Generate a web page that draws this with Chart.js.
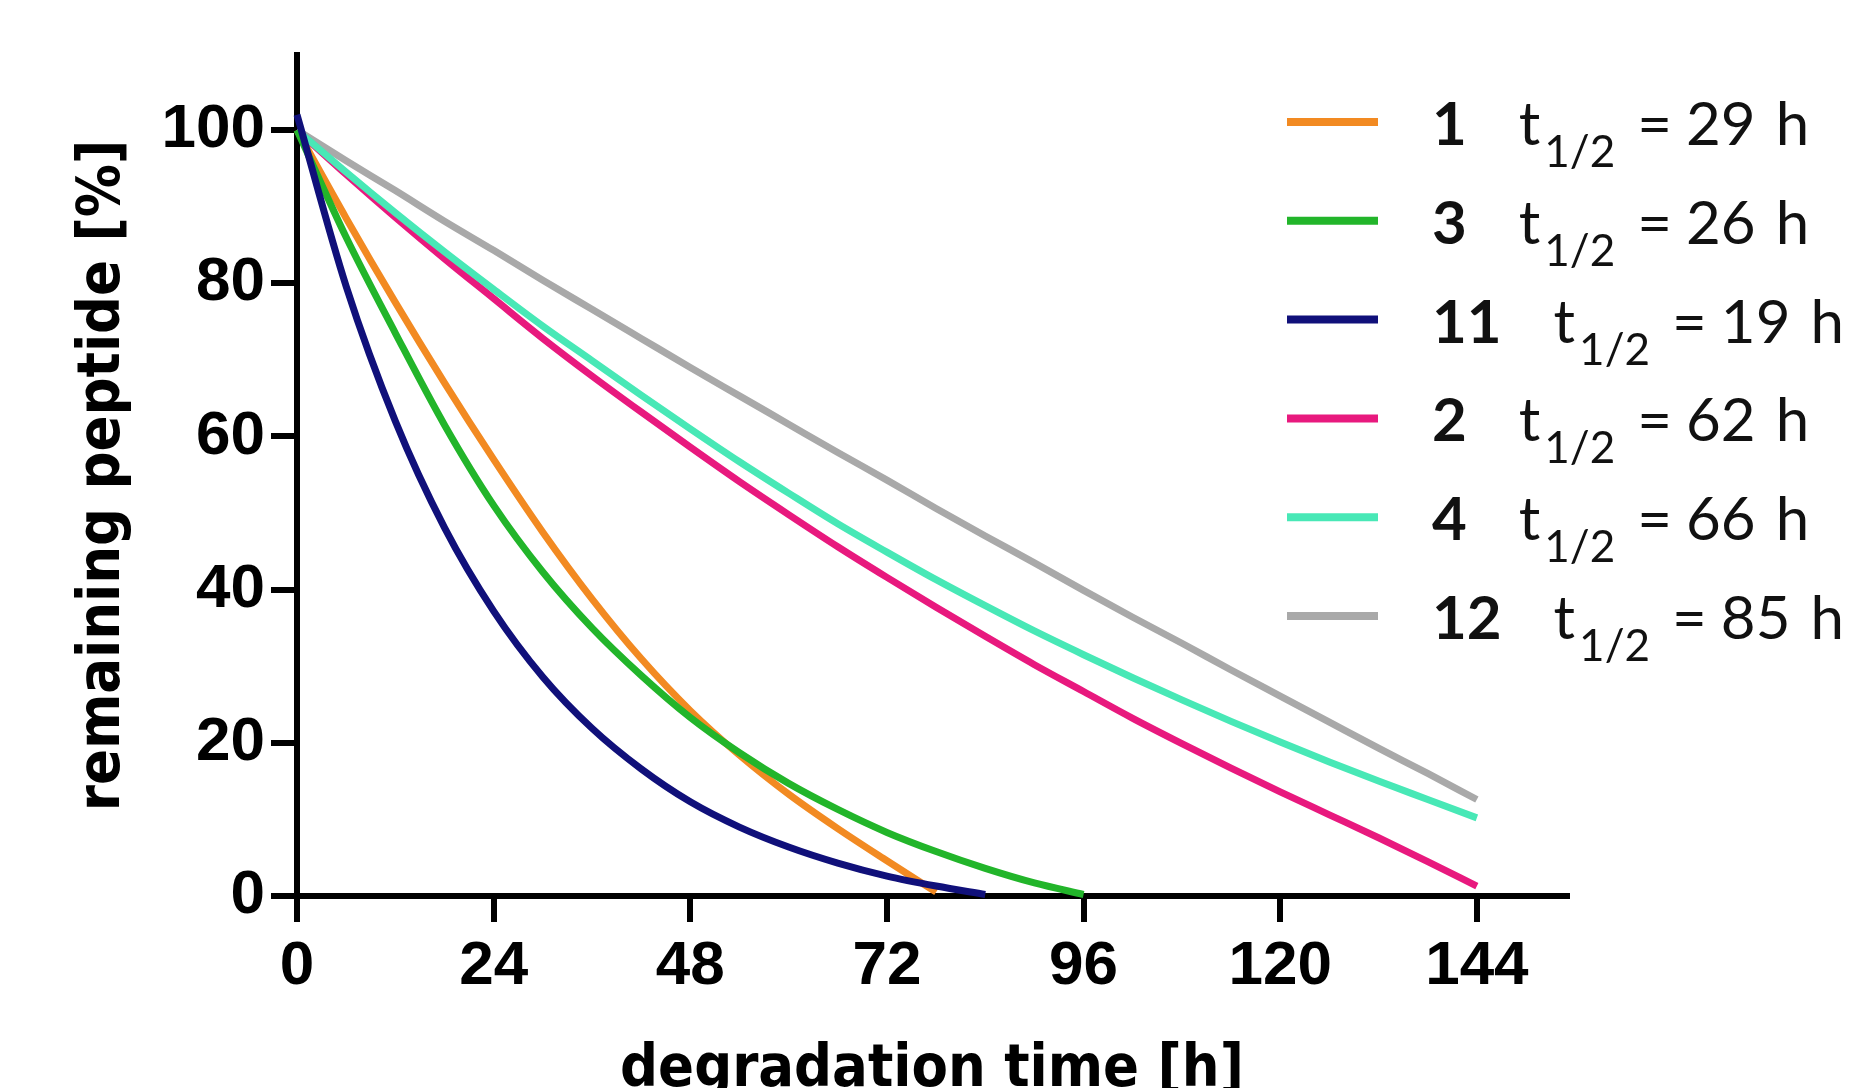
<!DOCTYPE html>
<html>
<head>
<meta charset="utf-8">
<script src="https://cdn.jsdelivr.net/npm/chart.js@4.4.1/dist/chart.umd.min.js"></script>
<style>
  html, body { margin: 0; padding: 0; background: #fff; }
  #wrap { position: relative; width: 1863px; height: 1088px; }
</style>
</head>
<body>
<div id="wrap"><canvas id="chart" width="1863" height="1088"></canvas></div>
<script>
// sampling times [h], shared by all curves (each curve stops where it hits 0)
const hours = [0, 6, 12, 18, 24, 30, 36, 42, 48, 54, 60, 66, 72, 78, 84, 90, 96, 102, 108, 114, 120, 126, 132, 138, 144];
const xTicks = [0, 24, 48, 72, 96, 120, 144];
const yTicks = [0, 20, 40, 60, 80, 100];

// legend order
const peptides = ['1', '3', '11', '2', '4', '12'];
const halfLives = [29, 26, 19, 62, 66, 85];
const colors = ['#F28A22', '#22B52A', '#10107A', '#E8197E', '#48E8B6', '#A9A9A9'];

// remaining peptide [%]
const pep1 = [100, 88.5, 77.5, 67, 57, 47.5, 38.8, 31, 24.2, 18.4, 13.3, 8.8, 4.6, 0.5];
const pep3 = [100, 86, 73.5, 61.5, 51, 42.3, 35, 28.8, 23.3, 18.7, 14.7, 11.3, 8.3, 5.8, 3.6, 1.7, 0.2];
const pep11 = [102, 79.6, 62, 48.1, 37.2, 28.6, 21.9, 16.6, 12.3, 9.0, 6.4, 4.3, 2.6, 1.3, 0.2];
const pep2 = [100, 94.2, 88.6, 83.2, 78.0, 72.8, 67.9, 63.2, 58.6, 54.1, 49.8, 45.6, 41.6, 37.7, 33.9, 30.2, 26.7, 23.2, 19.9, 16.7, 13.6, 10.6, 7.6, 4.5, 1.3];
const pep4 = [100, 94.5, 89.2, 84.1, 79.2, 74.4, 69.9, 65.4, 61.0, 56.7, 52.6, 48.6, 44.9, 41.3, 37.9, 34.6, 31.5, 28.5, 25.6, 22.8, 20.1, 17.5, 15.0, 12.6, 10.2];
const pep12 = [100, 96.0, 92.1, 88.1, 84.3, 80.4, 76.6, 72.8, 69.0, 65.3, 61.6, 57.9, 54.3, 50.6, 47.0, 43.5, 39.9, 36.4, 33.0, 29.5, 26.1, 22.7, 19.3, 16.0, 12.6];
const series = [pep1, pep3, pep11, pep2, pep4, pep12];
// drawing order (higher = further below)
const drawOrder = [6, 2, 1, 4, 3, 5];

const tickFont = { family: "'Liberation Sans Narrow', 'Liberation Sans', sans-serif", weight: 'bold', size: 62 };
const titleFont = { family: "'DejaVu Sans Condensed', 'DejaVu Sans', sans-serif", weight: 'bold', size: 59, lineHeight: 1 };

// legend with bold peptide number and t1/2 subscript
const halfLifeLegend = {
    id: 'halfLifeLegend',
    afterDraw(chart) {
        const ctx = chart.ctx;
        ctx.save();
        peptides.forEach((p, i) => {
            const y = 122 + i * 98.8;
            ctx.strokeStyle = colors[i];
            ctx.lineWidth = 8;
            ctx.beginPath();
            ctx.moveTo(1287, y);
            ctx.lineTo(1378, y);
            ctx.stroke();

            ctx.fillStyle = '#111';
            ctx.textBaseline = 'alphabetic';
            ctx.textAlign = 'left';
            let x = 1432;
            ctx.font = 'bold 60px Lato';
            ctx.fillText(p, x, y + 23);
            x += ctx.measureText(p).width + 52;
            ctx.font = '60px Lato';
            ctx.fillText('t', x, y + 23);
            x += ctx.measureText('t').width + 4;
            ctx.font = '44px Lato';
            ctx.fillText('1/2', x, y + 45);
            x += ctx.measureText('1/2').width + 22;
            ctx.font = '60px Lato';
            ctx.fillText('=', x, y + 23);
            x += ctx.measureText('=').width + 14;
            const num = String(halfLives[i]);
            ctx.fillText(num, x, y + 23);
            x += ctx.measureText(num).width + 20;
            ctx.fillText('h', x, y + 23);
        });
        ctx.restore();
    }
};

const datasets = series.map((vals, i) => ({
    label: peptides[i],
    data: vals.map((v, j) => ({ x: hours[j], y: v })),
    borderColor: colors[i],
    borderWidth: 7,
    pointRadius: 0,
    fill: false,
    cubicInterpolationMode: 'monotone',
    clip: false,
    order: drawOrder[i]
}));

new Chart(document.getElementById('chart'), {
    type: 'line',
    data: { datasets },
    plugins: [halfLifeLegend],
    options: {
        responsive: false,
        animation: false,
        events: [],
        layout: { padding: { top: 55, right: 296, left: 0, bottom: 0 } },
        plugins: { legend: { display: false }, tooltip: { enabled: false } },
        scales: {
            x: {
                type: 'linear',
                min: 0,
                max: 155,
                afterBuildTicks: s => { s.ticks = xTicks.map(v => ({ value: v })); },
                afterFit: s => { s.height = 192; },
                grid: { drawOnChartArea: false, tickLength: 26, lineWidth: 6, tickWidth: 6, tickColor: '#000' },
                border: { display: true, color: '#000', width: 6 },
                ticks: { color: '#000', font: tickFont, padding: 8, maxRotation: 0, autoSkip: false },
                title: { display: true, text: 'degradation time [h]', color: '#000', font: titleFont, padding: { top: 0, bottom: -12 } }
            },
            y: {
                type: 'linear',
                min: 0,
                max: 109.8,
                afterBuildTicks: s => { s.ticks = yTicks.map(v => ({ value: v })); },
                afterFit: s => { s.width = 297; },
                grid: { drawOnChartArea: false, tickLength: 26, lineWidth: 6, tickWidth: 6, tickColor: '#000' },
                border: { display: true, color: '#000', width: 6 },
                ticks: { color: '#000', font: tickFont, padding: 6, autoSkip: false },
                title: { display: true, text: 'remaining peptide [%]', color: '#000', font: titleFont, padding: { top: 74, bottom: 0 } }
            }
        }
    }
});
</script>
</body>
</html>
